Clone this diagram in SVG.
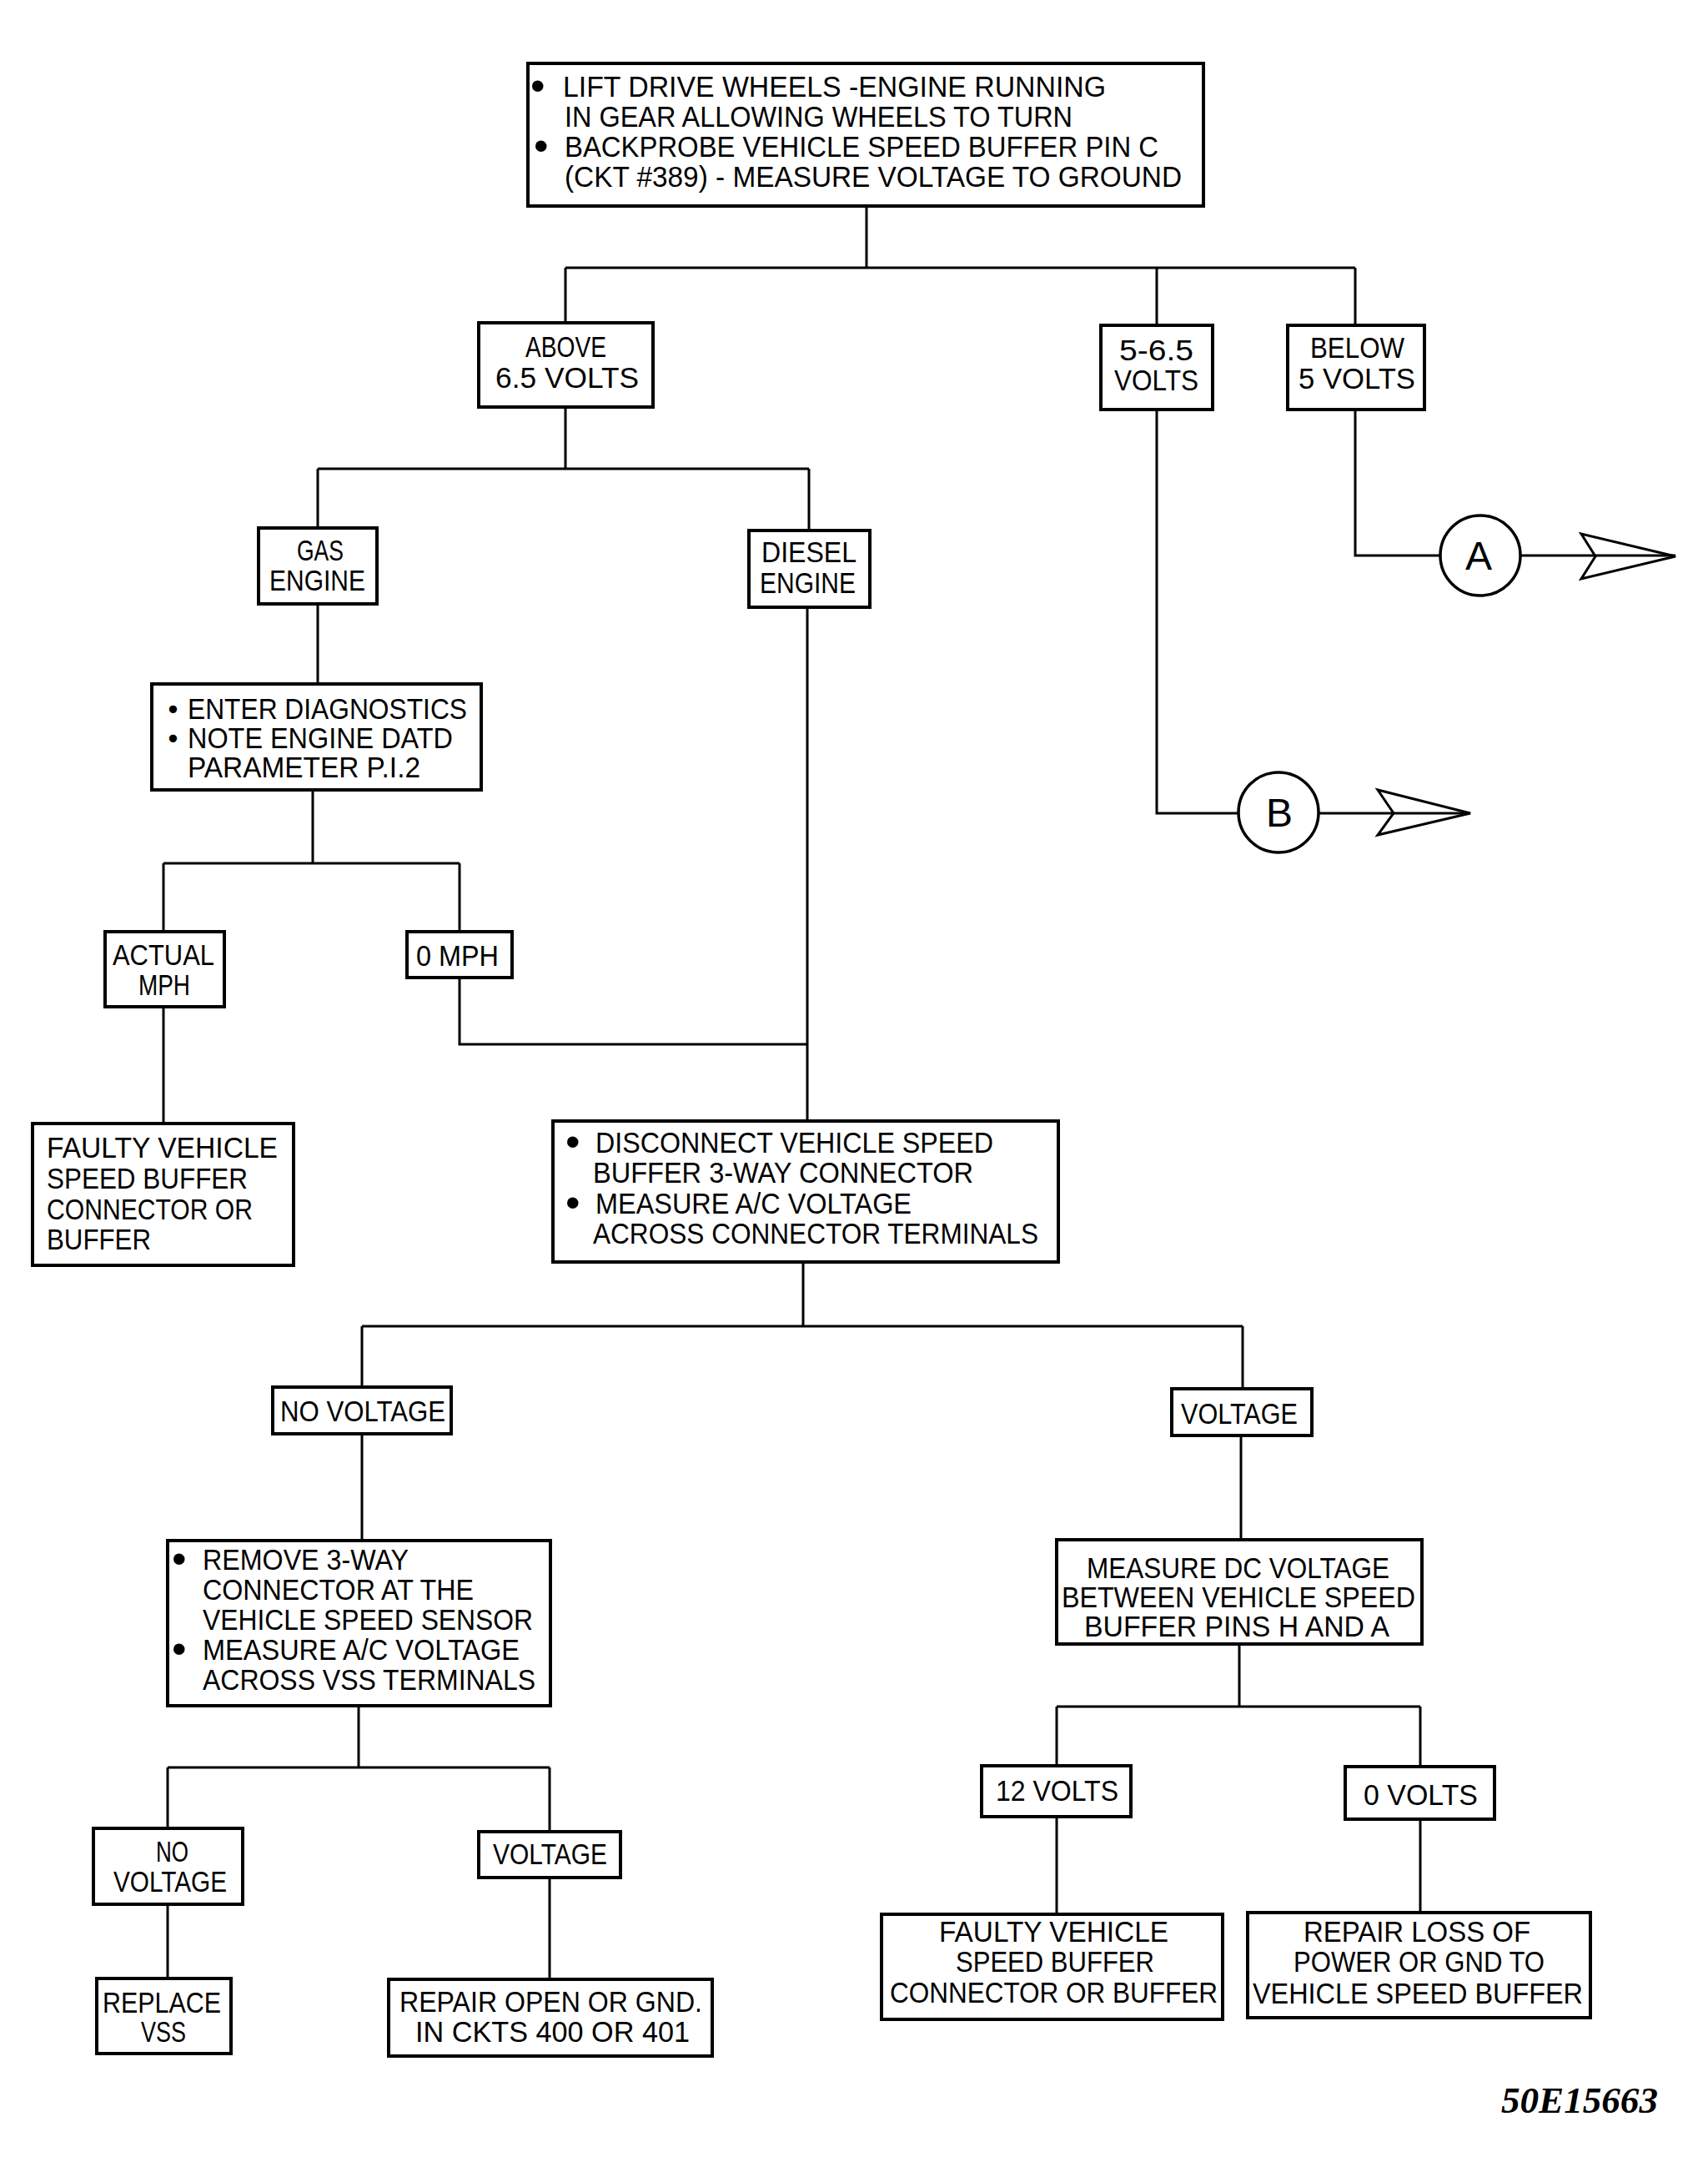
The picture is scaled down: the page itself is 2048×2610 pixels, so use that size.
<svg xmlns="http://www.w3.org/2000/svg" width="2048" height="2610" viewBox="0 0 2048 2610">
<style>
.bg{fill:#fff}
.box{fill:#fff;stroke:#000;stroke-width:4}
.c{fill:none;stroke:#000;stroke-width:3}
.t{font-family:"Liberation Sans",Arial,sans-serif;font-size:35px;fill:#000}
.b{font-family:"Liberation Sans",Arial,sans-serif;font-size:50px;fill:#000}
.bs{font-family:"DejaVu Sans",sans-serif;font-size:32px;fill:#000}
.circ{font-family:"Liberation Sans",Arial,sans-serif;font-size:48px;fill:#000;text-anchor:middle}
.id{font-family:"Liberation Serif","Times New Roman",serif;font-size:44px;font-weight:bold;font-style:italic;fill:#000}
</style>
<rect class="bg" x="0" y="0" width="2048" height="2610"/>
<g id="connectors">
<path class="c" d="M1039 247V321M678 321H1625M678 321V387M1387 321V390M1625 321V390"/>
<path class="c" d="M678 488V562M381 562H970M381 562V633M970 562V636"/>
<path class="c" d="M1625 491V666H1727M1823 666H2009"/>
<polygon class="c" points="2009,667 1896,640 1913,667 1896,694"/>
<path class="c" d="M1387 491V975H1485M1581 975H1763"/>
<polygon class="c" points="1763,975 1652,947 1671,975 1652,1001"/>
<path class="c" d="M381 724V820"/>
<path class="c" d="M375 947V1035M196 1035H551M196 1035V1117M551 1035V1117"/>
<path class="c" d="M196 1207V1347"/>
<path class="c" d="M551 1172V1252H968"/>
<path class="c" d="M968 728V1344"/>
<path class="c" d="M963 1513V1590M434 1590H1490M434 1590V1663M1490 1590V1665"/>
<path class="c" d="M434 1719V1847M1488 1721V1846"/>
<path class="c" d="M430 2045V2119M201 2119H659M201 2119V2192M659 2119V2196"/>
<path class="c" d="M201 2283V2372M659 2251V2373"/>
<path class="c" d="M1486 1971V2046M1267 2046H1703M1267 2046V2117M1703 2046V2118"/>
<path class="c" d="M1267 2178V2295M1703 2181V2293"/>
</g>
<g id="n-start">
<rect class="box" x="633" y="76" width="810" height="171"/>
<text class="b" x="636" y="120">•</text>
<text class="t" x="675" y="116" textLength="651" lengthAdjust="spacingAndGlyphs">LIFT DRIVE WHEELS -ENGINE RUNNING</text>
<text class="t" x="677" y="152" textLength="609" lengthAdjust="spacingAndGlyphs">IN GEAR ALLOWING WHEELS TO TURN</text>
<text class="b" x="640" y="192">•</text>
<text class="t" x="677" y="188" textLength="712" lengthAdjust="spacingAndGlyphs">BACKPROBE VEHICLE SPEED BUFFER PIN C</text>
<text class="t" x="677" y="224" textLength="740" lengthAdjust="spacingAndGlyphs">(CKT #389) - MEASURE VOLTAGE TO GROUND</text>
</g>
<g id="n-above">
<rect class="box" x="574" y="387" width="209" height="101"/>
<text class="t" x="630" y="428" textLength="97" lengthAdjust="spacingAndGlyphs">ABOVE</text>
<text class="t" x="594" y="465" textLength="172" lengthAdjust="spacingAndGlyphs">6.5 VOLTS</text>
</g>
<g id="n-mid">
<rect class="box" x="1320" y="390" width="134" height="101"/>
<text class="t" x="1342" y="432" textLength="89" lengthAdjust="spacingAndGlyphs">5-6.5</text>
<text class="t" x="1336" y="468" textLength="101" lengthAdjust="spacingAndGlyphs">VOLTS</text>
</g>
<g id="n-below">
<rect class="box" x="1544" y="390" width="164" height="101"/>
<text class="t" x="1571" y="429" textLength="113" lengthAdjust="spacingAndGlyphs">BELOW</text>
<text class="t" x="1557" y="466" textLength="140" lengthAdjust="spacingAndGlyphs">5 VOLTS</text>
</g>
<g id="n-a">
<circle class="box" cx="1775" cy="666" r="48" style="stroke-width:3.5"/>
<text class="circ" x="1773" y="683">A</text>
</g>
<g id="n-b">
<circle class="box" cx="1533" cy="974" r="48" style="stroke-width:3.5"/>
<text class="circ" x="1534" y="991">B</text>
</g>
<g id="n-gas">
<rect class="box" x="310" y="633" width="142" height="91"/>
<text class="t" x="356" y="672" textLength="56" lengthAdjust="spacingAndGlyphs">GAS</text>
<text class="t" x="323" y="708" textLength="115" lengthAdjust="spacingAndGlyphs">ENGINE</text>
</g>
<g id="n-diesel">
<rect class="box" x="898" y="636" width="145" height="92"/>
<text class="t" x="913" y="674" textLength="114" lengthAdjust="spacingAndGlyphs">DIESEL</text>
<text class="t" x="911" y="711" textLength="115" lengthAdjust="spacingAndGlyphs">ENGINE</text>
</g>
<g id="n-diag">
<rect class="box" x="182" y="820" width="395" height="127"/>
<text class="bs" x="198" y="862">•</text>
<text class="bs" x="198" y="897">•</text>
<text class="t" x="225" y="862" textLength="335" lengthAdjust="spacingAndGlyphs">ENTER DIAGNOSTICS</text>
<text class="t" x="225" y="897" textLength="318" lengthAdjust="spacingAndGlyphs">NOTE ENGINE DATD</text>
<text class="t" x="225" y="932" textLength="279" lengthAdjust="spacingAndGlyphs">PARAMETER P.I.2</text>
</g>
<g id="n-actual">
<rect class="box" x="126" y="1117" width="143" height="90"/>
<text class="t" x="135" y="1157" textLength="122" lengthAdjust="spacingAndGlyphs">ACTUAL</text>
<text class="t" x="166" y="1193" textLength="62" lengthAdjust="spacingAndGlyphs">MPH</text>
</g>
<g id="n-0mph">
<rect class="box" x="488" y="1117" width="126" height="55"/>
<text class="t" x="499" y="1158" textLength="99" lengthAdjust="spacingAndGlyphs">0 MPH</text>
</g>
<g id="n-faulty1">
<rect class="box" x="39" y="1347" width="313" height="170"/>
<text class="t" x="56" y="1388" textLength="277" lengthAdjust="spacingAndGlyphs">FAULTY VEHICLE</text>
<text class="t" x="56" y="1425" textLength="241" lengthAdjust="spacingAndGlyphs">SPEED BUFFER</text>
<text class="t" x="56" y="1462" textLength="247" lengthAdjust="spacingAndGlyphs">CONNECTOR OR</text>
<text class="t" x="56" y="1498" textLength="125" lengthAdjust="spacingAndGlyphs">BUFFER</text>
</g>
<g id="n-disconnect">
<rect class="box" x="663" y="1344" width="606" height="169"/>
<text class="b" x="678" y="1386">•</text>
<text class="t" x="714" y="1382" textLength="477" lengthAdjust="spacingAndGlyphs">DISCONNECT VEHICLE SPEED</text>
<text class="t" x="711" y="1418" textLength="456" lengthAdjust="spacingAndGlyphs">BUFFER 3-WAY CONNECTOR</text>
<text class="b" x="678" y="1459">•</text>
<text class="t" x="714" y="1455" textLength="379" lengthAdjust="spacingAndGlyphs">MEASURE A/C VOLTAGE</text>
<text class="t" x="711" y="1491" textLength="534" lengthAdjust="spacingAndGlyphs">ACROSS CONNECTOR TERMINALS</text>
</g>
<g id="n-novoltage1">
<rect class="box" x="327" y="1663" width="214" height="56"/>
<text class="t" x="336" y="1704" textLength="198" lengthAdjust="spacingAndGlyphs">NO VOLTAGE</text>
</g>
<g id="n-voltage1">
<rect class="box" x="1405" y="1665" width="168" height="56"/>
<text class="t" x="1416" y="1707" textLength="140" lengthAdjust="spacingAndGlyphs">VOLTAGE</text>
</g>
<g id="n-remove">
<rect class="box" x="201" y="1847" width="459" height="198"/>
<text class="b" x="206" y="1886">•</text>
<text class="t" x="243" y="1882" textLength="247" lengthAdjust="spacingAndGlyphs">REMOVE 3-WAY</text>
<text class="t" x="243" y="1918" textLength="325" lengthAdjust="spacingAndGlyphs">CONNECTOR AT THE</text>
<text class="t" x="243" y="1954" textLength="396" lengthAdjust="spacingAndGlyphs">VEHICLE SPEED SENSOR</text>
<text class="b" x="206" y="1994">•</text>
<text class="t" x="243" y="1990" textLength="380" lengthAdjust="spacingAndGlyphs">MEASURE A/C VOLTAGE</text>
<text class="t" x="243" y="2026" textLength="399" lengthAdjust="spacingAndGlyphs">ACROSS VSS TERMINALS</text>
</g>
<g id="n-measuredc">
<rect class="box" x="1267" y="1846" width="438" height="125"/>
<text class="t" x="1303" y="1892" textLength="363" lengthAdjust="spacingAndGlyphs">MEASURE DC VOLTAGE</text>
<text class="t" x="1273" y="1927" textLength="424" lengthAdjust="spacingAndGlyphs">BETWEEN VEHICLE SPEED</text>
<text class="t" x="1300" y="1962" textLength="366" lengthAdjust="spacingAndGlyphs">BUFFER PINS H AND A</text>
</g>
<g id="n-novoltage2">
<rect class="box" x="112" y="2192" width="179" height="91"/>
<text class="t" x="187" y="2232" textLength="39" lengthAdjust="spacingAndGlyphs">NO</text>
<text class="t" x="136" y="2268" textLength="136" lengthAdjust="spacingAndGlyphs">VOLTAGE</text>
</g>
<g id="n-voltage2">
<rect class="box" x="574" y="2196" width="170" height="55"/>
<text class="t" x="591" y="2235" textLength="137" lengthAdjust="spacingAndGlyphs">VOLTAGE</text>
</g>
<g id="n-replace">
<rect class="box" x="116" y="2372" width="161" height="90"/>
<text class="t" x="123" y="2413" textLength="142" lengthAdjust="spacingAndGlyphs">REPLACE</text>
<text class="t" x="169" y="2448" textLength="54" lengthAdjust="spacingAndGlyphs">VSS</text>
</g>
<g id="n-repairopen">
<rect class="box" x="466" y="2373" width="388" height="92"/>
<text class="t" x="479" y="2412" textLength="363" lengthAdjust="spacingAndGlyphs">REPAIR OPEN OR GND.</text>
<text class="t" x="498" y="2448" textLength="329" lengthAdjust="spacingAndGlyphs">IN CKTS 400 OR 401</text>
</g>
<g id="n-12volts">
<rect class="box" x="1177" y="2117" width="179" height="61"/>
<text class="t" x="1194" y="2159" textLength="147" lengthAdjust="spacingAndGlyphs">12 VOLTS</text>
</g>
<g id="n-0volts">
<rect class="box" x="1613" y="2118" width="179" height="63"/>
<text class="t" x="1635" y="2164" textLength="137" lengthAdjust="spacingAndGlyphs">0 VOLTS</text>
</g>
<g id="n-faulty2">
<rect class="box" x="1057" y="2295" width="409" height="126"/>
<text class="t" x="1126" y="2328" textLength="275" lengthAdjust="spacingAndGlyphs">FAULTY VEHICLE</text>
<text class="t" x="1146" y="2364" textLength="238" lengthAdjust="spacingAndGlyphs">SPEED BUFFER</text>
<text class="t" x="1067" y="2401" textLength="393" lengthAdjust="spacingAndGlyphs">CONNECTOR OR BUFFER</text>
</g>
<g id="n-repairloss">
<rect class="box" x="1496" y="2293" width="411" height="126"/>
<text class="t" x="1563" y="2328" textLength="272" lengthAdjust="spacingAndGlyphs">REPAIR LOSS OF</text>
<text class="t" x="1551" y="2364" textLength="301" lengthAdjust="spacingAndGlyphs">POWER OR GND TO</text>
<text class="t" x="1502" y="2402" textLength="396" lengthAdjust="spacingAndGlyphs">VEHICLE SPEED BUFFER</text>
</g>
<text class="id" x="1800" y="2533" textLength="188" lengthAdjust="spacingAndGlyphs">50E15663</text>
</svg>
